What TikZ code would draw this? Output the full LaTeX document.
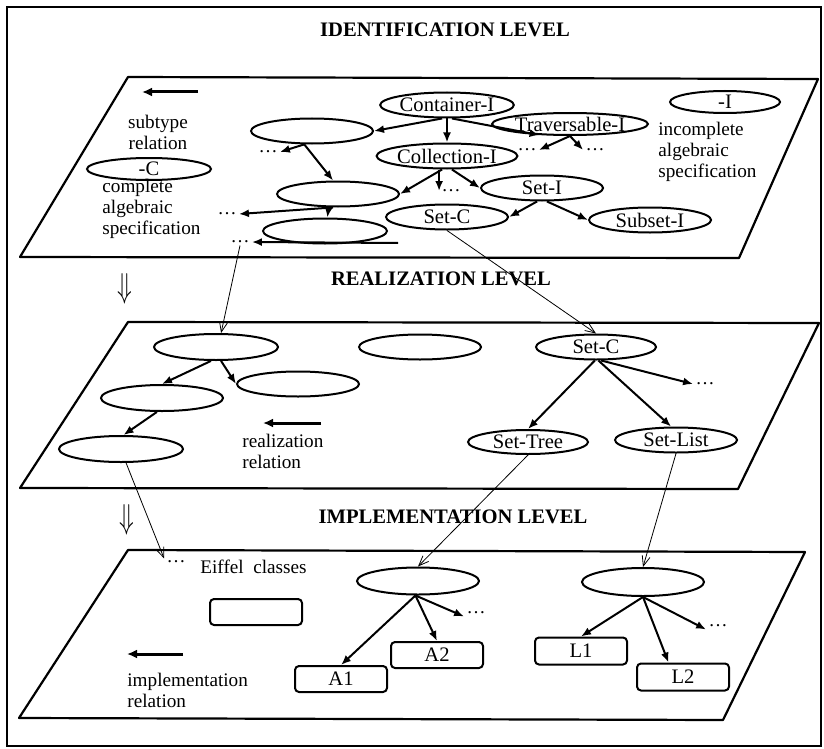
\documentclass[tikz,border=0pt]{standalone}
\usepackage{fontspec}
\setmainfont{Liberation Serif}
\usepackage{tikz}
\usetikzlibrary{shapes.geometric,arrows.meta}

\begin{document}
\begin{tikzpicture}[x=0.5pt,y=-0.5pt,
  spec/.style={draw,ellipse,line width=1pt,minimum width=61pt,minimum height=12.5pt,inner sep=0pt,font=\fontsize{10.3}{11}\selectfont},
  cls/.style={draw,rectangle,rounded corners=2pt,line width=1pt,minimum width=46pt,minimum height=13pt,inner sep=0pt,font=\fontsize{10.3}{11}\selectfont},
  sub/.style={line width=1pt,-{Latex[length=5pt,width=4pt]}},
  lvl/.style={line width=0.4pt,-{Straight Barb[length=5pt,width=4pt]}},
  legend/.style={line width=1.5pt,-{Latex[length=5pt,width=4.5pt]}},
  plane/.style={line width=1.1pt,line join=round},
  note/.style={align=left,anchor=west,inner sep=0pt,font=\fontsize{9.6}{10.5}\selectfont},
  title/.style={font=\bfseries\fontsize{10.3}{12}\selectfont},
  dots/.style={inner sep=1pt,font=\fontsize{9.5}{10}\selectfont},
  down/.style={inner sep=0pt,font=\fontsize{17}{17}\selectfont}]

\useasboundingbox (0,0) rectangle (824,749);
\draw[line width=1pt] (7,7) rectangle (821,746);

% the three levels
\draw[plane] (128,77) -- (818,79) -- (739,258) -- (20,257) -- cycle;
\draw[plane] (128,322) -- (819,323) -- (738,489) -- (20,488) -- cycle;
\draw[plane] (128,550) -- (805,552) -- (723,720) -- (19,718) -- cycle;

\node[title] (tid) at (445,30) {IDENTIFICATION LEVEL};
\node[title] (tre) at (441,279) {REALIZATION LEVEL};
\node[title] (tim) at (453,517) {IMPLEMENTATION LEVEL};

\node[down] (dn1) at (125,289) {\scalebox{0.7}[1]{$\Downarrow$}};
\node[down] (dn2) at (127,520) {\scalebox{0.7}[1]{$\Downarrow$}};

% identification level
\coordinate (sub1) at (198,92);
\coordinate (sub0) at (142,92);
\draw[legend] (sub1) -- (sub0);
\node[note,align=center,anchor=center] (subrel) at (158,132) {subtype\\relation};
\node[spec,minimum width=62pt,minimum height=11pt] (legc) at (149,169) {-C};
\node[note] (cnote) at (102,209) {complete\\algebraic\\specification};
\node[spec,minimum width=55pt,minimum height=11pt] (legi) at (725,102) {-I};
\node[note] (inote) at (658,152) {incomplete\\algebraic\\specification};

\node[spec] (cont) at (447,105) {Container-I};
\node[spec,minimum width=63pt,minimum height=11pt] (trav) at (570,124) {Traversable-I};
\node[spec] (coll) at (447,156) {Collection-I};
\node[spec] (seti) at (542,188) {Set-I};
\node[spec] (setc) at (447,217) {Set-C};
\node[spec] (subs) at (650,220) {Subset-I};
\node[spec] (ida) at (312,131) {};
\node[spec] (idb) at (338,194) {};
\node[spec,minimum width=62pt] (idc) at (325,231) {};

\foreach \n/\x/\y in {ad/268/152, bd/227/214, cd/240/242, td1/527/150, td2/595/150, cdot/451/191}
  \node[dots] (\n) at (\x,\y) {\ldots};
\coordinate (cx) at (398,243);

\draw[sub] (cont.250) -- (ida.east);
\draw[sub] (cont.south) -- (coll.north);
\draw[sub] (cont.290) -- (trav.200);
\draw[sub] (trav.south) -- (td1.east);
\draw[sub] (trav.south) -- (td2.west);
\draw[sub] (ida.240) -- (ad.east);
\draw[sub] (ida.240) -- (idb.110);
\draw[sub] (idb.250) -- (bd.east);
\draw[sub] (idb.235) -- (idc.80);
\draw[sub] (cx) -- (cd.east);
\draw[sub] (coll.250) -- (idb.east);
\draw[sub] (coll.south -| cdot.west) -- (cdot.west);
\draw[sub] (coll.290) -- (seti.west);
\draw[sub] (seti.250) -- (setc.east);
\draw[sub] (seti.290) -- (subs.west);

% realization level
\node[spec,minimum width=62pt,minimum height=13pt] (rea) at (216,347) {};
\node[spec,minimum height=13pt] (reb) at (162,398) {};
\node[spec] (rec) at (298,384) {};
\node[spec,minimum width=62pt,minimum height=13pt] (red) at (121,449) {};
\node[spec] (ree) at (420,347) {};
\node[spec,minimum width=60pt] (rsetc) at (596,347) {Set-C};
\node[spec,minimum width=60pt,minimum height=12pt] (rtree) at (528,442) {Set-Tree};
\node[spec] (rlist) at (676,440) {Set-List};
\node[dots] (scd) at (705,384) {\ldots};

\coordinate (rel1) at (321,423);
\coordinate (rel0) at (263,423);
\draw[legend] (rel1) -- (rel0);
\node[note] (rnote) at (242,451) {realization\\relation};

\draw[sub] (rea.250) -- (reb.north);
\draw[sub] (rea.290) -- (rec.west);
\draw[sub] (reb.250) -- (red.80);
\draw[sub] (rsetc.265) -- (rtree.north);
\draw[sub] (rsetc.280) -- (rlist.110);
\draw[sub] (rsetc.290) -- (scd.west);

% implementation level
\node[spec,minimum height=13.5pt] (imtree) at (418,581) {};
\node[spec,minimum height=14pt] (imlist) at (643,582) {};
\node[note] (eiffel) at (200,567) {Eiffel\ \ classes};
\node[cls] (boxe) at (256,612) {};
\node[cls] (boxa1) at (341,679) {A1};
\node[cls] (boxa2) at (437,655) {A2};
\node[cls,minimum height=13.5pt] (boxl1) at (581,651) {L1};
\node[cls,minimum height=13.5pt] (boxl2) at (683,677) {L2};
\node[dots] (pd) at (176,562) {\ldots};
\node[dots] (id) at (476,613) {\ldots};
\node[dots] (jd) at (718,626) {\ldots};

\coordinate (imp1) at (183,654);
\coordinate (imp0) at (127,654);
\draw[legend] (imp1) -- (imp0);
\node[note] (inote2) at (127,690) {implementation\\relation};

\draw[sub] (imtree.260) -- (boxa1.north);
\draw[sub] (imtree.260) -- (boxa2.north);
\draw[sub] (imtree.260) -- (id.south west);
\draw[sub] (imlist.south) -- (boxl1.north);
\draw[sub] (imlist.south) -- (boxl2.135);
\draw[sub] (imlist.south) -- (jd.south west);

% between the levels
\draw[lvl] (cd.south) -- (rea.70);
\draw[lvl] (setc.south) -- (rsetc.north);
\draw[lvl] (red.290) -- (pd.north west);
\draw[lvl] (rtree.south) -- (imtree.north);
\draw[lvl] (rlist.south) -- (imlist.north);

\end{tikzpicture}
\end{document}
